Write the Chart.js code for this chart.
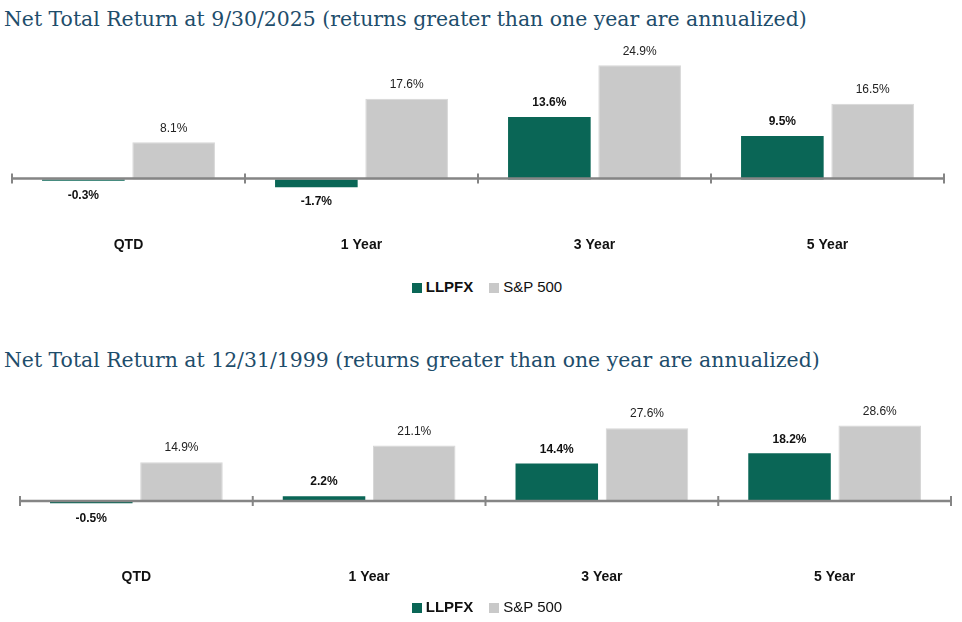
<!DOCTYPE html>
<html>
<head>
<meta charset="utf-8">
<script src="https://cdn.jsdelivr.net/npm/chart.js@4"></script>
<style>
  html, body { margin: 0; padding: 0; background: #fff; }
  body { width: 962px; height: 622px; position: relative; overflow: hidden; font-family: "Liberation Sans", Arial, sans-serif; }
  .title { position: absolute; left: 4px; font-family: "DejaVu Serif", serif; font-size: 20.4px; color: #1e4d6b; white-space: nowrap; line-height: 1; }
  .box { position: absolute; left: 0; width: 962px; }
  .legend { position: absolute; left: 0; width: 950px; padding-left: 12px; text-align: center; font-size: 15px; color: #111; line-height: 1; }
  .legend span.item { display: inline-block; margin: 0 8px; }
  .legend i { display: inline-block; width: 10px; height: 10px; margin-right: 4px; vertical-align: -1px; }
</style>
</head>
<body>

<div class="title" id="title1" style="top:9px"></div>
<div class="box" style="top:36px; height:230px"><canvas id="chart1"></canvas></div>
<div class="legend" id="legend1" style="top:279px"></div>

<div class="title" id="title2" style="top:350px"></div>
<div class="box" style="top:405px; height:200px"><canvas id="chart2"></canvas></div>
<div class="legend" id="legend2" style="top:599px"></div>

<script>
// Data
const periods = ['QTD', '1 Year', '3 Year', '5 Year'];
const seriesNames = ['LLPFX', 'S&P 500'];
const seriesColors = ['#0a6656', '#c9c9c9'];

const title2025 = 'Net Total Return at 9/30/2025 (returns greater than one year are annualized)';
const fund2025 = [-0.3, -1.7, 13.6, 9.5];
const index2025 = [8.1, 17.6, 24.9, 16.5];

const title1999 = 'Net Total Return at 12/31/1999 (returns greater than one year are annualized)';
const fund1999 = [-0.5, 2.2, 14.4, 18.2];
const index1999 = [14.9, 21.1, 27.6, 28.6];

// Zero line with tick marks at category edges
const zeroAxis = {
  id: 'zeroAxis',
  afterDatasetsDraw(chart) {
    const { ctx, scales: { x, y } } = chart;
    const y0 = y.getPixelForValue(0) - 1;
    const half = (x.getPixelForValue(1) - x.getPixelForValue(0)) / 2;
    ctx.save();
    ctx.strokeStyle = '#858585';
    ctx.lineWidth = 2.5;
    ctx.beginPath();
    ctx.moveTo(x.getPixelForValue(0) - half, y0);
    ctx.lineTo(x.getPixelForValue(periods.length - 1) + half, y0);
    ctx.stroke();
    ctx.lineWidth = 2;
    for (let i = 0; i <= periods.length; i++) {
      const px = x.getPixelForValue(0) - half + i * half * 2;
      ctx.beginPath();
      ctx.moveTo(px, y0 - 5);
      ctx.lineTo(px, y0 + 5);
      ctx.stroke();
    }
    ctx.restore();
  }
};

// Value labels above/below each bar
const valueLabels = {
  id: 'valueLabels',
  afterDatasetsDraw(chart) {
    const { ctx } = chart;
    ctx.save();
    ctx.textAlign = 'center';
    ctx.textBaseline = 'middle';
    chart.data.datasets.forEach((ds, di) => {
      ctx.font = (di === 0 ? 'bold ' : '') + '12px "Liberation Sans", Arial, sans-serif';
      ctx.fillStyle = di === 0 ? '#111' : '#222';
      chart.getDatasetMeta(di).data.forEach((bar, i) => {
        const v = ds.data[i];
        const yy = v >= 0 ? bar.y - 14 : bar.y + 15;
        ctx.fillText(v.toFixed(1) + '%', bar.x, yy);
      });
    });
    ctx.restore();
  }
};

function makeChart(id, fund, index, yMin, yMax, padLeft, padRight, labelPad) {
  return new Chart(document.getElementById(id), {
    type: 'bar',
    data: {
      labels: periods,
      datasets: [
        { label: seriesNames[0], data: fund, backgroundColor: seriesColors[0] },
        { label: seriesNames[1], data: index, backgroundColor: seriesColors[1], borderColor: '#d6d6d6', borderWidth: 1 }
      ]
    },
    options: {
      responsive: true,
      maintainAspectRatio: false,
      animation: false,
      datasets: { bar: { categoryPercentage: 0.775, barPercentage: 0.915 } },
      layout: { padding: { left: padLeft, right: padRight, top: 6, bottom: 0 } },
      plugins: { legend: { display: false }, tooltip: { enabled: false } },
      scales: {
        x: {
          grid: { display: false, drawTicks: false },
          border: { display: false },
          ticks: { padding: labelPad, color: '#111', font: { family: '"Liberation Sans", Arial, sans-serif', size: 14, weight: 'bold' } }
        },
        y: { display: false, min: yMin, max: yMax }
      }
    },
    plugins: [zeroAxis, valueLabels]
  });
}

function fillLegend(id) {
  document.getElementById(id).innerHTML = seriesNames.map((name, i) =>
    `<span class="item" style="font-weight:${i === 0 ? 'bold' : 'normal'}"><i style="background:${seriesColors[i]}"></i>${name.replace('&', '&amp;')}</span>`
  ).join('');
}

document.getElementById('title1').textContent = title2025;
document.getElementById('title2').textContent = title1999;
fillLegend('legend1');
fillLegend('legend2');

makeChart('chart1', fund2025, index2025, -10, 30, 12, 18, 12);
makeChart('chart2', fund1999, index1999, -18, 34, 20, 11, 19);
</script>
</body>
</html>
